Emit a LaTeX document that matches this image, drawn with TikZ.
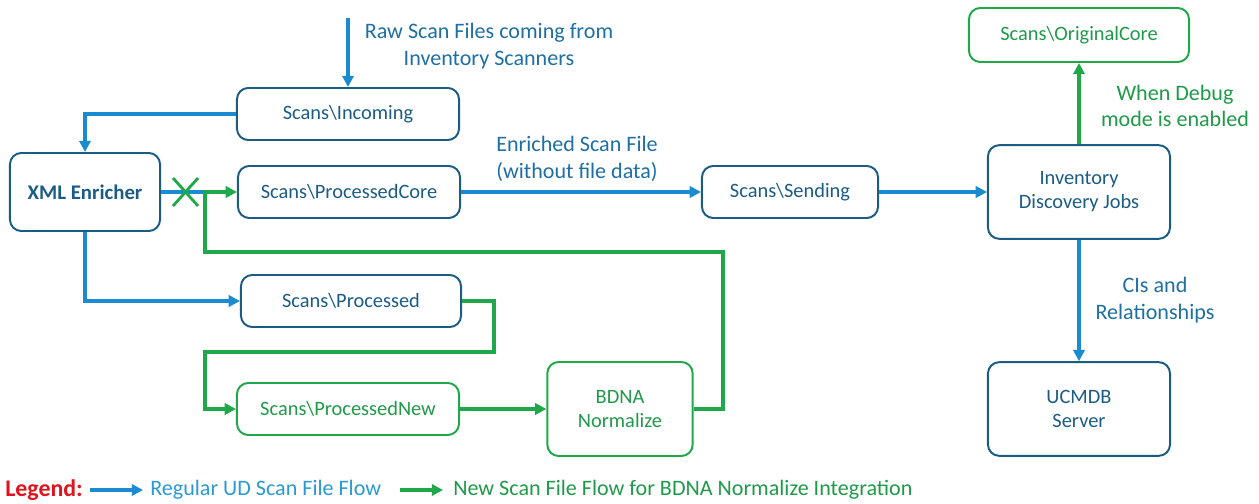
\documentclass[tikz,border=0pt]{standalone}
\usepackage{fontspec}
\setmainfont{Carlito}
\usetikzlibrary{arrows.meta,positioning}
\definecolor{boxBlue}{HTML}{1B5C85}
\definecolor{flowBlue}{HTML}{1A8BD0}
\definecolor{noteBlue}{HTML}{1E6FA3}
\definecolor{legendBlue}{HTML}{2A9AD6}
\definecolor{flowGreen}{HTML}{1FA84A}
\definecolor{textGreen}{HTML}{1E9A48}
\definecolor{legendRed}{HTML}{E0141E}

\begin{document}
\begin{tikzpicture}[
  x=0.025cm, y=-0.025cm,
  >={Triangle[length=8pt,width=8pt]},
  font=\fontsize{14.5}{17}\selectfont,
  box/.style={draw=boxBlue, line width=1.4pt, rounded corners=8pt, text=boxBlue, align=center, inner sep=0pt, minimum width=5.55cm, minimum height=1.3cm},
  bigbox/.style={box, minimum width=4.55cm, minimum height=2.34cm},
  gbox/.style={box, draw=flowGreen, text=textGreen},
  bflow/.style={->, draw=flowBlue, line width=2.2pt},
  gflow/.style={->, draw=flowGreen, line width=2.2pt},
  note/.style={align=center, text=noteBlue, font=\fontsize{15.7}{19}\selectfont}
]
\useasboundingbox (0,0) rectangle (1259,504);

% boxes
\node[box] (incoming) at (348,114) {Scans\textbackslash Incoming};
\node[box, minimum width=3.75cm, minimum height=1.95cm, font=\fontsize{14.8}{17}\selectfont\bfseries] (xml) at (85,192) {XML Enricher};
\node[box] (pcore) at (349,192) {Scans\textbackslash ProcessedCore};
\node[box, minimum width=4.4cm] (sending) at (790,192) {Scans\textbackslash Sending};
\node[bigbox] (jobs) at (1079,192) {Inventory\\Discovery Jobs};
\node[gbox, minimum width=5.5cm, minimum height=1.35cm] (origcore) at (1079,35) {Scans\textbackslash OriginalCore};
\node[box, minimum width=5.5cm] (processed) at (351,301) {Scans\textbackslash Processed};
\node[gbox] (pnew) at (348,409) {Scans\textbackslash ProcessedNew};
\node[gbox, minimum width=3.63cm, minimum height=2.35cm] (bdna) at (620,409) {BDNA\\Normalize};
\node[bigbox] (ucmdb) at (1079,409) {UCMDB\\Server};

% regular flow
\coordinate (rawtop) at (348,18);
\coordinate (cut) at (205,192);
\draw[bflow] (rawtop) -- (incoming.north);
\draw[bflow] (incoming.west) -| (xml.north);
\draw[draw=flowBlue, line width=2.2pt] (xml.east) -- (cut);
\draw[bflow] (pcore.east) -- (sending.west);
\draw[bflow] (sending.east) -- (jobs.west);
\draw[bflow] (jobs.south) -- (ucmdb.north);
\draw[bflow] (xml.south) |- (processed.west);

% new flow
\draw[flowGreen, line width=2pt] (173,178) -- (198,206) (173,206) -- (198,178);
\draw[gflow] (processed.east) -| (494,352) -| (205,409) -- (pnew.west);
\draw[gflow] (pnew.east) -- (bdna.west);
\draw[gflow] (bdna.east) -| (723,252) -| (cut) -- (pcore.west);
\draw[gflow] (jobs.north) -- (origcore.south);

% labels
\node[note] (rawlbl) at (489,46) {Raw Scan Files coming from\\Inventory Scanners};
\node[note] (enrlbl) at (577,159) {Enriched Scan File\\(without file data)};
\node[note, text=textGreen] (dbglbl) at (1175,106) {When Debug\\mode is enabled};
\node[note] (cilbl) at (1155,300) {CIs and\\Relationships};

% legend
\node[anchor=west, inner sep=0pt, text=legendRed, font=\fontsize{17}{19}\selectfont\bfseries] (legend) at (5,490) {Legend:};
\coordinate (lb0) at (90,490);
\coordinate (lb1) at (143,490);
\draw[bflow] (lb0) -- (lb1);
\node[anchor=west, inner sep=0pt, text=legendBlue, font=\fontsize{15.7}{19}\selectfont] (lbtxt) at (150,490) {Regular UD Scan File Flow};
\coordinate (lg0) at (400,490);
\coordinate (lg1) at (443,490);
\draw[gflow] (lg0) -- (lg1);
\node[anchor=west, inner sep=0pt, text=textGreen, font=\fontsize{15.7}{19}\selectfont] (lgtxt) at (453,490) {New Scan File Flow for BDNA Normalize Integration};
\end{tikzpicture}
\end{document}
